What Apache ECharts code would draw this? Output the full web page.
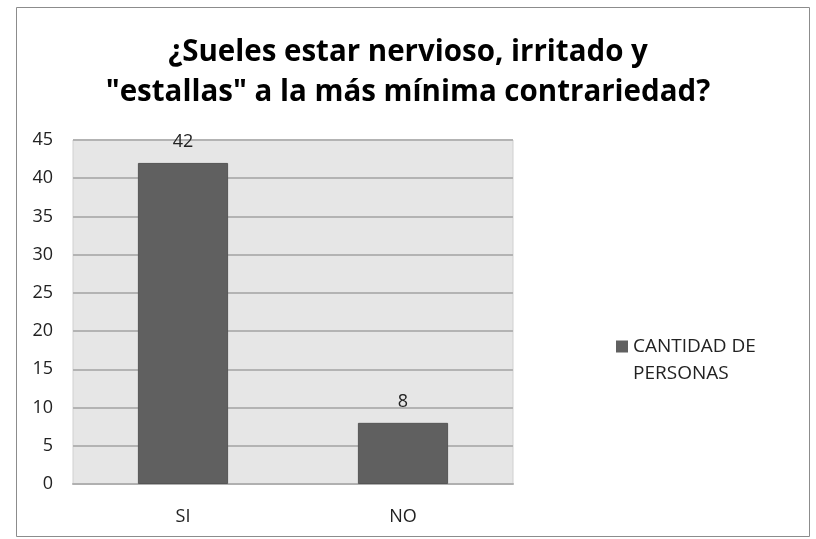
<!DOCTYPE html>
<html>
<head>
<meta charset="utf-8">
<script src="https://cdn.jsdelivr.net/npm/echarts@6/dist/echarts.min.js"></script>
<style>
  html, body { margin: 0; padding: 0; background: #ffffff; }
  #chart { width: 816px; height: 539px; }
</style>
</head>
<body>
<div id="chart"></div>
<script>
// Survey answers and counts
const categories = ['SI', 'NO'];
const counts = [42, 8];
const seriesName = 'CANTIDAD DE\nPERSONAS';
const titleText = '¿Sueles estar nervioso, irritado y\n"estallas" a la más mínima contrariedad?';

const FONT = '"Open Sans", "Noto Sans", sans-serif';

// Legend swatch: a square in the upper part of a tall box, so it sits
// beside the first line of the two-line legend label.
const SWATCH = 'path://M0,0H12V12H0Z M0,39L0.001,39';

const chart = echarts.init(document.getElementById('chart'), null, { renderer: 'canvas' });

chart.setOption({
  backgroundColor: '#ffffff',
  animation: false,
  title: {
    text: titleText,
    left: 'center',
    top: 28,
    padding: [5, 0, 5, 14],
    textStyle: {
      fontFamily: FONT,
      fontWeight: 'bold',
      fontSize: 29.5,
      lineHeight: 40,
      color: '#000000'
    }
  },
  graphic: [{
    type: 'rect',
    shape: { x: 16.5, y: 7.5, width: 793, height: 529 },
    style: { fill: 'none', stroke: '#8c8c8c', lineWidth: 1 },
    silent: true
  }],
  legend: {
    left: 616,
    top: 333,
    padding: 0,
    orient: 'vertical',
    icon: SWATCH,
    itemWidth: 12,
    itemHeight: 39,
    itemStyle: { borderWidth: 0 },
    textStyle: {
      fontFamily: FONT,
      fontSize: 19,
      color: '#222222',
      lineHeight: 27
    },
    data: [seriesName]
  },
  grid: {
    left: 73,
    right: 303,
    top: 140,
    bottom: 55,
    show: true,
    backgroundColor: '#e6e6e6',
    borderColor: '#d0d0d0',
    borderWidth: 1,
    containLabel: false
  },
  xAxis: {
    type: 'category',
    data: categories,
    axisLine: { show: true, lineStyle: { color: '#b0b0b0', width: 2 } },
    axisTick: { show: false },
    axisLabel: { margin: 24, fontFamily: FONT, fontSize: 18, color: '#222222' }
  },
  yAxis: {
    type: 'value',
    min: 0,
    max: 45,
    interval: 5,
    axisLine: { show: false },
    axisTick: { show: false },
    splitLine: { show: true, lineStyle: { color: '#b3b3b3', width: 2 } },
    axisLabel: { margin: 20, fontFamily: FONT, fontSize: 18, color: '#222222' }
  },
  series: [{
    name: seriesName,
    type: 'bar',
    data: counts,
    barWidth: '41%',
    itemStyle: { color: '#606060', borderColor: '#555555', borderWidth: 1 },
    label: {
      show: true,
      position: 'top',
      distance: 12,
      fontFamily: FONT,
      fontSize: 18,
      color: '#222222'
    }
  }]
});
</script>
</body>
</html>
